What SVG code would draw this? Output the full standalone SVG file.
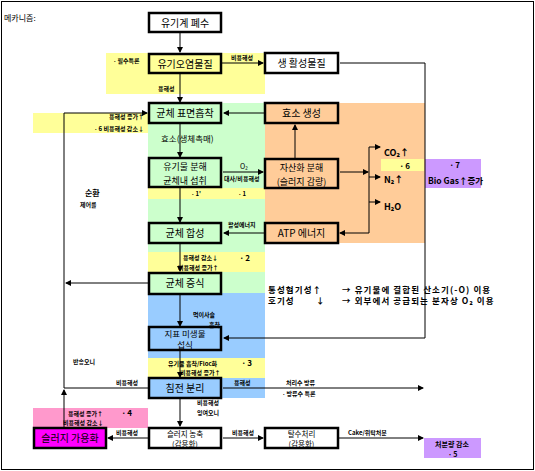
<svg xmlns="http://www.w3.org/2000/svg" width="535" height="471" viewBox="0 0 535 471">
<defs>
<marker id="ah" markerWidth="6" markerHeight="6" refX="5" refY="3" orient="auto" markerUnits="userSpaceOnUse">
<path d="M0,0 L6,3 L0,6 z" fill="#000"/>
</marker>
<style>
text{font-family:"Noto Sans CJK KR","Noto Sans",sans-serif;fill:#000}
.bx{stroke:#000;stroke-width:2.5}
.bt{font-size:10px;text-anchor:middle}
.b9{font-size:9px;text-anchor:middle}
.b2{font-size:7.5px;text-anchor:middle}
.sm{font-size:6px;font-weight:bold}
.md{font-size:8px;font-weight:bold}
.wd{font-size:8.5px;font-weight:bold;letter-spacing:1.1px}
.ln{fill:none;stroke:#000;stroke-width:1}
.ar{fill:none;stroke:#000;stroke-width:1;marker-end:url(#ah)}
</style>
</defs>
<rect x="0" y="0" width="535" height="471" fill="#fff"/>
<rect x="1.5" y="1.5" width="532" height="468" fill="none" stroke="#000" stroke-width="1"/>

<!-- background regions -->
<g id="regions">
<rect x="106" y="53" width="159" height="41" fill="#ffff99"/>
<rect x="148" y="103" width="117" height="190" fill="#ccffcc"/>
<rect x="265" y="103" width="160" height="140" fill="#ffcc99"/>
<rect x="33" y="113" width="115" height="20" fill="#ffff99"/>
<rect x="148" y="188" width="117" height="11" fill="#ffff99"/>
<rect x="148" y="252" width="117" height="20" fill="#ffff99"/>
<rect x="148" y="293" width="117" height="105" fill="#99ccff"/>
<rect x="148" y="358" width="117" height="20" fill="#ffff99"/>
<rect x="381" y="159" width="43" height="12" fill="#ffff99"/>
<rect x="425" y="159" width="56" height="29" fill="#cc99ff"/>
<rect x="33" y="408" width="115" height="20" fill="#ff99cc"/>
<rect x="424" y="438" width="57" height="20" fill="#cc99ff"/>
</g>

<text x="4" y="21" style="font-size:8px">메카니즘:</text>

<g id="connectors">
<path class="ar" d="M180,33 V52"/>
<path class="ar" d="M180,74 V102"/>
<path class="ar" d="M222,63 H263"/>
<path class="ar" d="M340,63 H425 V338 H224"/>
<path class="ar" d="M265,113 H224"/>
<path class="ar" d="M64,388 V113 H147"/>
<path class="ar" d="M180,124 V157"/>
<path class="ar" d="M295,158 V125"/>
<path class="ar" d="M223,172 H263"/>
<path class="ar" d="M340,172 H368"/>
<path class="ln" d="M369,147 V233"/>
<path class="ar" d="M369,147 H380"/>
<path class="ar" d="M369,177 H380"/>
<path class="ar" d="M369,202 H380"/>
<path class="ar" d="M369,233 H340"/>
<path class="ar" d="M264,233 H224"/>
<path class="ar" d="M180,188 V222"/>
<path class="ar" d="M180,244 V271"/>
<path class="ar" d="M148,283 H66"/>
<path class="ar" d="M180,295 V326"/>
<path class="ar" d="M180,351 V377"/>
<path class="ln" d="M148,388 H64"/>
<path class="ar" d="M223,388 H423"/>
<path class="ar" d="M64,427 V390"/>
<path class="ar" d="M180,399 V426"/>
<path class="ar" d="M148,438 H108"/>
<path class="ar" d="M223,438 H263"/>
<path class="ar" d="M339,438 H423"/>
</g>

<g id="n-wastewater"><rect class="bx" x="149" y="13" width="72" height="19" fill="#fff"/><text class="bt" x="185" y="26.5">유기계 폐수</text></g>
<g id="n-pollutant"><rect class="bx" x="149" y="54" width="72" height="19" fill="#ffff99"/><text class="bt" x="185" y="67.5">유기오염물질</text></g>
<g id="n-inert"><rect class="bx" x="265" y="53" width="73" height="20" fill="#fff"/><text class="bt" x="301.5" y="66.5">생 활성물질</text></g>
<g id="n-adsorb"><rect class="bx" x="149" y="103" width="72" height="20" fill="#ccffcc"/><text class="bt" x="185" y="117">균체 표면흡착</text></g>
<g id="n-enzyme"><rect class="bx" x="265" y="103" width="73" height="20" fill="#ffcc99"/><text class="bt" x="301.5" y="117">효소 생성</text></g>
<g id="n-decomp"><rect class="bx" x="149" y="158" width="72" height="29" fill="#ccffcc"/><text class="b9" x="185" y="170">유기물 분해</text><text class="b9" x="185" y="183.5">균체내 섭취</text></g>
<g id="n-autoox"><rect class="bx" x="265" y="159" width="73" height="29" fill="#ffcc99"/><text class="b9" x="301.5" y="171">자산화 분해</text><text class="b9" x="301.5" y="184.5">(슬러지 감량)</text></g>
<g id="n-atp"><rect class="bx" x="265" y="223" width="73" height="20" fill="#ffcc99"/><text class="bt" x="301.5" y="237">ATP 에너지</text></g>
<g id="n-synth"><rect class="bx" x="149" y="223" width="72" height="20" fill="#ccffcc"/><text class="bt" x="185" y="237">균체 합성</text></g>
<g id="n-growth"><rect class="bx" x="149" y="273" width="72" height="21" fill="#ccffcc"/><text class="bt" x="185" y="287">균체 증식</text></g>
<g id="n-indicator"><rect class="bx" x="149" y="327" width="72" height="23" fill="#99ccff"/><text x="185" y="337" style="font-size:8.5px;text-anchor:middle">지표 미생물</text><text x="185" y="348" style="font-size:8.5px;text-anchor:middle">섭식</text></g>
<g id="n-settle"><rect class="bx" x="149" y="378" width="72" height="20" fill="#99ccff"/><text class="bt" x="185" y="392">침전 분리</text></g>
<g id="n-solub"><rect class="bx" x="34" y="428" width="72" height="20" fill="#ff00ff"/><text class="bt" x="70" y="442">슬러지 가용화</text></g>
<g id="n-thicken"><rect class="bx" x="149" y="428" width="72" height="20" fill="#fff"/><text class="b2" x="185" y="436.5">슬러지 농축</text><text class="b2" x="185" y="447">(감용화)</text></g>
<g id="n-dewater"><rect class="bx" x="265" y="428" width="73" height="20" fill="#fff"/><text class="b2" x="301.5" y="436.5">탈수처리</text><text class="b2" x="301.5" y="447">(감용화)</text></g>

<g id="labels">
<text class="sm" x="112" y="63">ㆍ필수특론</text>
<text class="sm" x="231" y="60">비용해성</text>
<text class="sm" x="158" y="91">용해성</text>
<text class="sm" x="109" y="119">용해성 증가↑</text>
<text class="sm" x="93" y="131">ㆍ6 비용해성 감소↓</text>
<text x="161" y="142" style="font-size:8.5px">효소(생체촉매)</text>
<text x="240" y="169" style="font-size:7px">O₂</text>
<text class="sm" x="224" y="181">대사/비용해성</text>
<text class="sm" x="190" y="196">ㆍ1'</text>
<text class="sm" x="237" y="196">ㆍ1</text>
<text class="md" x="85" y="196">순환</text>
<text class="sm" x="80" y="207">제어를</text>
<text class="sm" x="228" y="227">활성에너지</text>
<text class="sm" x="183" y="260">용해성 감소↓</text>
<text class="md" x="238" y="261">ㆍ2</text>
<text class="sm" x="178" y="270">비용해성 증가↑</text>
<text class="sm" x="193" y="317">먹이사슬</text>
<text class="sm" x="209" y="327">흡착</text>
<text class="wd" x="268" y="293">통성혐기성↑</text>
<text class="wd" x="268" y="304">호기성</text>
<text class="wd" x="316" y="304">↓</text>
<text class="wd" x="342" y="293">→ 유기물에 결합된 산소기(-O) 이용</text>
<text class="wd" x="342" y="304">→ 외부에서 공급되는 분자상 O₂ 이용</text>
<text class="sm" x="73" y="364">반송오니</text>
<text class="sm" x="168" y="366">유기물 흡착/Floc화</text>
<text class="md" x="240" y="366">ㆍ3</text>
<text class="sm" x="180" y="375">비용해성 증가↑</text>
<text class="sm" x="116" y="385">비용해성</text>
<text class="sm" x="234" y="385">용해성</text>
<text class="sm" x="286" y="385">처리수 방류</text>
<text class="sm" x="281" y="396">ㆍ방류수 특론</text>
<text class="sm" x="197" y="405">비용해성</text>
<text class="sm" x="197" y="415">잉여오니</text>
<text class="sm" x="68" y="416">용해성 증가↑</text>
<text class="md" x="120" y="416">ㆍ4</text>
<text class="sm" x="63" y="425">비용해성 감소↓</text>
<text class="sm" x="116" y="435">비용해성</text>
<text class="sm" x="232" y="435">비용해성</text>
<text class="sm" x="348" y="435">Cake/위탁처분</text>
<text x="452" y="447" text-anchor="middle" style="font-size:7px;font-weight:bold">처분량 감소</text>
<text x="452" y="456.5" text-anchor="middle" style="font-size:7px;font-weight:bold">ㆍ5</text>
<text x="384" y="156" style="font-size:9px;font-weight:bold">CO₂↑</text>
<text x="384" y="183" style="font-size:9px;font-weight:bold">N₂↑</text>
<text x="384" y="210" style="font-size:9px;font-weight:bold">H₂O</text>
<text class="md" x="398" y="169">ㆍ6</text>
<text class="md" x="448" y="168">ㆍ7</text>
<text x="428" y="184" style="font-size:8.5px;font-weight:bold">Bio Gas↑증가</text>
</g>
</svg>
